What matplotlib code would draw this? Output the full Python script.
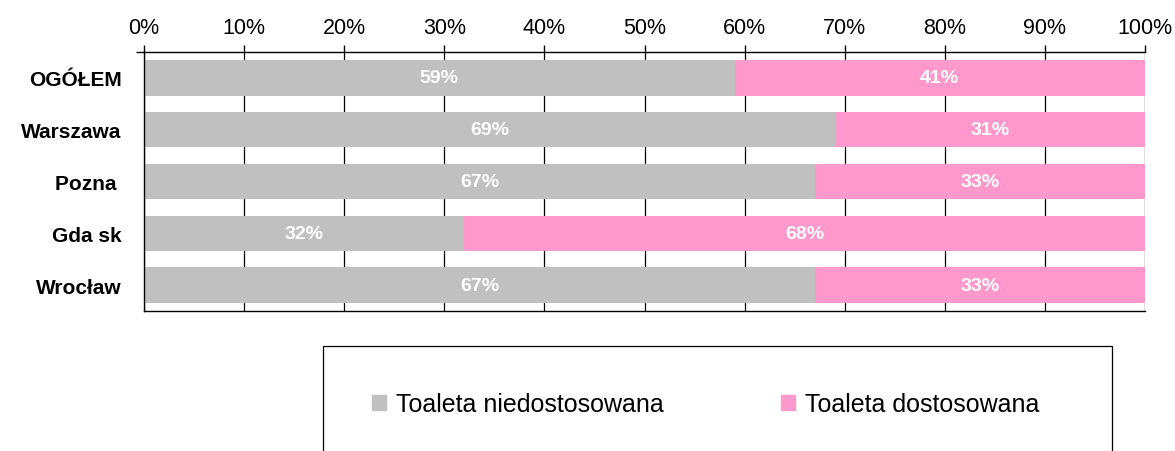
import matplotlib.pyplot as plt
import matplotlib.patches as mpatches
import numpy as np

kategorie = ['OGÓŁEM', 'Warszawa', 'Pozna ', 'Gda sk', 'Wrocław']
niedostosowana = [59, 69, 67, 32, 67]
dostosowana = [41, 31, 33, 68, 33]
etykiety_x = ['0%', '10%', '20%', '30%', '40%', '50%', '60%', '70%', '80%', '90%', '100%']

plt.rcParams['font.family'] = ['Liberation Sans', 'DejaVu Sans']

fig = plt.figure(figsize=(11.75, 4.52), dpi=100)
ax = fig.add_axes([144 / 1175, 1 - 312 / 452, 1001 / 1175, 259 / 452])

y = np.arange(len(kategorie))
szary = '#C0C0C0'
rozowy = '#FF99CC'

ax.barh(y, niedostosowana, height=0.68, color=szary, zorder=2)
ax.barh(y, dostosowana, left=niedostosowana, height=0.68, color=rozowy, zorder=2)

# podpisy wartosci na srodku segmentow
for i in range(len(kategorie)):
    ax.text(niedostosowana[i] / 2, y[i], f'{niedostosowana[i]}%', ha='center', va='center',
            color='white', fontsize=14, fontweight='bold', zorder=3)
    ax.text(niedostosowana[i] + dostosowana[i] / 2, y[i], f'{dostosowana[i]}%', ha='center',
            va='center', color='white', fontsize=14, fontweight='bold', zorder=3)

ax.set_xlim(0, 100)
ax.set_ylim(len(kategorie) - 0.5, -0.5)
ax.set_xticks(np.arange(0, 101, 10))
ax.set_xticklabels(etykiety_x, fontsize=15.5)
ax.xaxis.tick_top()
ax.tick_params(axis='x', direction='out', length=5, width=1, pad=5, color='black')
ax.set_yticks(y)
ax.set_yticklabels(kategorie, fontsize=15, fontweight='bold')
ax.tick_params(axis='y', which='major', length=0, pad=16)
# krotka kreska na lewo od gornej krawedzi
ax.set_yticks([-0.5], minor=True)
ax.tick_params(axis='y', which='minor', length=6, width=1, direction='out')
ax.grid(axis='x', color='black', linewidth=0.9, zorder=0)
ax.set_axisbelow(True)
for s in ['top', 'left', 'bottom']:
    ax.spines[s].set_linewidth(1)
ax.spines['right'].set_visible(False)

# ramka legendy wychodzi poza dol rysunku
ramka = mpatches.Rectangle((323 / 1175, -0.05), (1112 - 323) / 1175, 1 - 347 / 452 + 0.05,
                           transform=fig.transFigure, fill=False, edgecolor='black',
                           linewidth=0.9, clip_on=False)
fig.patches.append(ramka)

uchwyty = [mpatches.Patch(color=szary, label='Toaleta niedostosowana'),
           mpatches.Patch(color=rozowy, label='Toaleta dostosowana')]
fig.legend(handles=uchwyty, loc='center', bbox_to_anchor=(706 / 1175, 1 - 405 / 452),
           ncol=2, frameon=False, handlelength=0.56, handleheight=0.56,
           handletextpad=0.4, columnspacing=4.7,
           prop={'family': ['Liberation Sans'], 'size': 18})

fig.savefig('out.png', dpi=100)
